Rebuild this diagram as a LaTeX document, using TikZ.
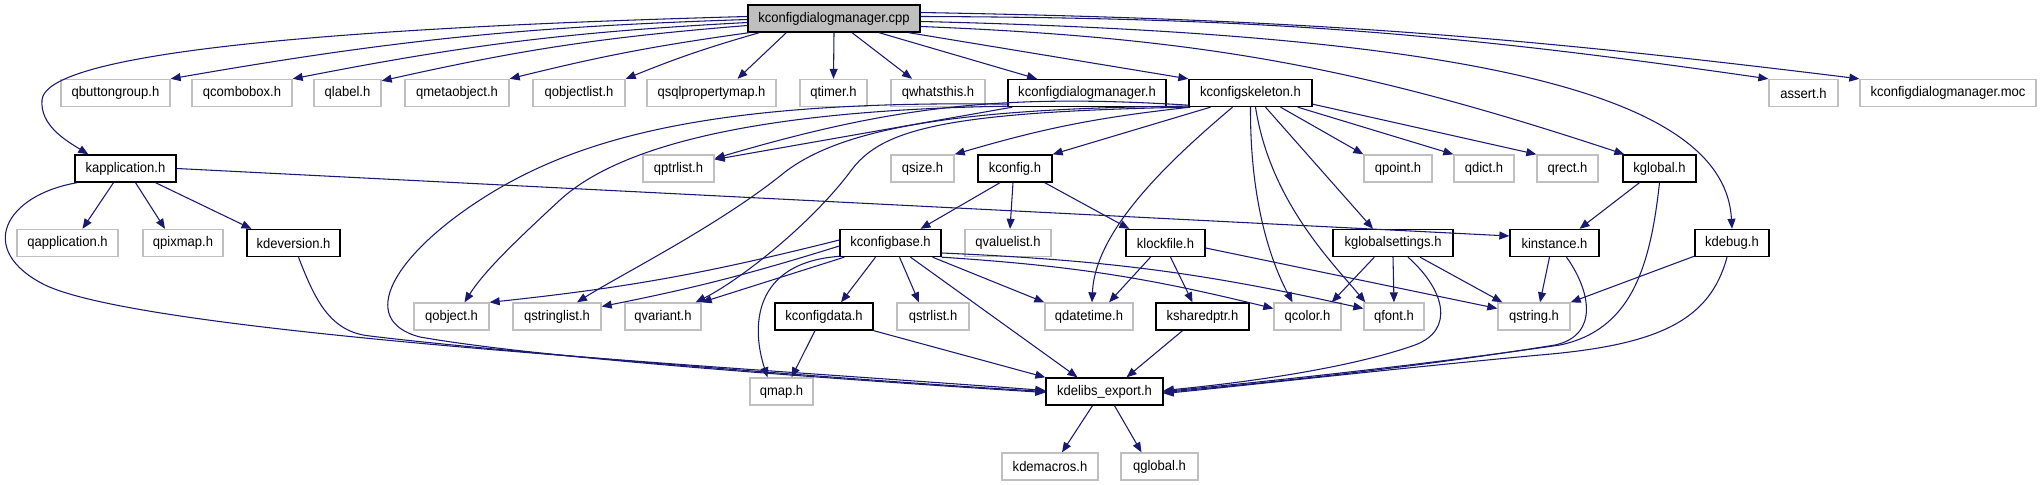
\documentclass[tikz,border=0pt]{standalone}
\usepackage{fontspec}
\setmainfont{Liberation Sans}[FakeStretch=0.93]
\usetikzlibrary{arrows.meta,calc}
\definecolor{edgec}{HTML}{191970}
\definecolor{graybd}{HTML}{BFBFBF}
\definecolor{rootfill}{HTML}{BFBFBF}
\newcommand{\mkbox}[5]{\node[#1, minimum width=#4*0.75pt] (#2) at (#3) {#5};}
\begin{document}
\begin{tikzpicture}[x=0.75pt,y=-0.75pt,
  box/.style={rectangle, minimum height=20.25pt, inner sep=0pt, font=\fontsize{10.5}{12}\selectfont},
  dnode/.style={box, draw=black, line width=1pt, fill=white},
  unode/.style={box, draw=graybd, line width=1pt, fill=white},
  rootn/.style={box, draw=black, line width=1pt, fill=rootfill},
  dep/.style={draw=edgec, line width=0.8pt, -{Triangle[length=7.5pt,width=6pt]}},
]
\useasboundingbox (0,0) rectangle (2041,485);
% row 0
\mkbox{rootn}{cpp}{834,18.5}{172}{kconfigdialogmanager.cpp}
% row 1
\mkbox{unode}{qbuttongroup}{115.5,93}{109}{qbuttongroup.h}
\mkbox{unode}{qcombobox}{242,93}{100}{qcombobox.h}
\mkbox{unode}{qlabel}{347.5,93}{67}{qlabel.h}
\mkbox{unode}{qmetaobject}{457,93}{104}{qmetaobject.h}
\mkbox{unode}{qobjectlist}{579,93}{92}{qobjectlist.h}
\mkbox{unode}{qsqlpropertymap}{711.5,93}{129}{qsqlpropertymap.h}
\mkbox{unode}{qtimer}{833.5,93}{67}{qtimer.h}
\mkbox{unode}{qwhatsthis}{938,93}{94}{qwhatsthis.h}
\mkbox{dnode}{kcdmh}{1087,93}{158}{kconfigdialogmanager.h}
\mkbox{dnode}{kcskel}{1250.5,93}{123}{kconfigskeleton.h}
\mkbox{unode}{assert}{1803.5,93}{69}{assert.h}
\mkbox{unode}{moc}{1948,93}{176}{kconfigdialogmanager.moc}
% row 2
\mkbox{dnode}{kapp}{125.5,168.5}{101}{kapplication.h}
\mkbox{unode}{qptrlist}{678.5,168.5}{71}{qptrlist.h}
\mkbox{unode}{qsize}{922.5,168.5}{63}{qsize.h}
\mkbox{dnode}{kconfig}{1015,168.5}{74}{kconfig.h}
\mkbox{unode}{qpoint}{1398,168.5}{68}{qpoint.h}
\mkbox{unode}{qdict}{1484,168.5}{60}{qdict.h}
\mkbox{unode}{qrect}{1567.5,168.5}{61}{qrect.h}
\mkbox{dnode}{kglobal}{1659.5,168.5}{73}{kglobal.h}
% row 3
\mkbox{unode}{qapplication}{67.5,243}{101}{qapplication.h}
\mkbox{unode}{qpixmap}{183,243}{80}{qpixmap.h}
\mkbox{dnode}{kdeversion}{293.5,243}{93}{kdeversion.h}
\mkbox{dnode}{kconfigbase}{890.5,243}{101}{kconfigbase.h}
\mkbox{unode}{qvaluelist}{1008,243}{86}{qvaluelist.h}
\mkbox{dnode}{klockfile}{1165.5,243}{79}{klockfile.h}
\mkbox{dnode}{kglobalsettings}{1393,243}{120}{kglobalsettings.h}
\mkbox{dnode}{kinstance}{1554.5,243}{89}{kinstance.h}
\mkbox{dnode}{kdebug}{1732,243}{74}{kdebug.h}
% row 4
\mkbox{unode}{qobject}{451.5,316.5}{75}{qobject.h}
\mkbox{unode}{qstringlist}{557,316.5}{88}{qstringlist.h}
\mkbox{unode}{qvariant}{663,316.5}{76}{qvariant.h}
\mkbox{dnode}{kconfigdata}{824,316.5}{98}{kconfigdata.h}
\mkbox{unode}{qstrlist}{933,316.5}{72}{qstrlist.h}
\mkbox{unode}{qdatetime}{1089,316.5}{88}{qdatetime.h}
\mkbox{dnode}{ksharedptr}{1202.5,316.5}{93}{ksharedptr.h}
\mkbox{unode}{qcolor}{1307.5,316.5}{67}{qcolor.h}
\mkbox{unode}{qfont}{1394,316.5}{60}{qfont.h}
\mkbox{unode}{qstring}{1534,316.5}{72}{qstring.h}
% row 5
\mkbox{unode}{qmap}{781.5,391.5}{63}{qmap.h}
\mkbox{dnode}{kdelibs}{1104.5,391.5}{117}{kdelibs\_export.h}
% row 6
\mkbox{unode}{kdemacros}{1050,466.5}{96}{kdemacros.h}
\mkbox{unode}{qglobal}{1159.5,466.5}{77}{qglobal.h}

% ---- edges from cpp
\draw[dep] ($(cpp.west)+(0,-2)$) .. controls (250,30) and (45,60) .. (42,100) .. controls (40,125) and (65,140) .. ($(kapp.north west)+(14,0)$);
\draw[dep] ($(cpp.west)+(0,1)$) to[bend right=4] (qbuttongroup.north east);
\draw[dep] ($(cpp.west)+(0,4)$) to[bend right=4] (qcombobox.north east);
\draw[dep] ($(cpp.west)+(0,7)$) to[bend right=4] ($(qlabel.north east)+(0,2)$);
\draw[dep] ($(cpp.south west)+(2,0)$) to[bend right=3] (qmetaobject.north east);
\draw[dep] ($(cpp.south west)+(12,0)$) to[bend right=3] (qobjectlist.north east);
\draw[dep] ($(cpp.south west)+(39,0)$) -- ($(qsqlpropertymap.north)+(26,0)$);
\draw[dep] (cpp.south) -- (qtimer.north);
\draw[dep] ($(cpp.south)+(18,0)$) -- ($(qwhatsthis.north)+(-26,0)$);
\draw[dep] ($(cpp.south)+(45,0)$) -- ($(kcdmh.north)+(-50,0)$);
\draw[dep] ($(cpp.south east)+(-12,0)$) -- (kcskel.north west);
\draw[dep] ($(cpp.east)+(0,8)$) to[bend left=8] ($(kglobal.north west)+(2,0)$);
\draw[dep] ($(cpp.east)+(0,3)$) .. controls (1500,35) and (1725,100) .. (kdebug.north);
\draw[dep] ($(cpp.east)+(0,-2)$) to[bend left=4] (assert.north west);
\draw[dep] ($(cpp.east)+(0,-6)$) to[bend left=3] (moc.north west);

% ---- kapplication
\draw[dep] ($(kapp.south)+(-12,0)$) -- ($(qapplication.north)+(15,0)$);
\draw[dep] ($(kapp.south)+(10,0)$) -- ($(qpixmap.north)+(-18,0)$);
\draw[dep] ($(kapp.south)+(30,0)$) -- ($(kdeversion.north)+(-42,0)$);
\draw[dep] (kapp.east) -- ($(kinstance.west)+(0,-7)$);
\draw[dep] ($(kapp.south west)+(3,0)$) .. controls (5,195) and (-25,250) .. (45,285) .. controls (150,335) and (750,368) .. ($(kdelibs.west)+(0,-1)$);

% ---- kdeversion
\draw[dep] ($(kdeversion.south)+(5,0)$) .. controls (315,300) and (330,332) .. (370,336) .. controls (500,352) and (850,380) .. (kdelibs.west);

% ---- kconfigdialogmanager.h
\draw[dep] ($(kcdmh.south west)+(5,0)$) -- ($(qptrlist.east)+(0,-9)$);
\draw[dep] ($(kcdmh.south west)+(2,-1)$) .. controls (760,110) and (620,145) .. (560,200) .. controls (520,237) and (485,270) .. ($(qobject.north)+(13,0)$);
\draw[dep] ($(kcdmh.south west)+(2,-3)$) .. controls (720,100) and (580,135) .. (480,200) .. controls (395,255) and (355,320) .. (420,337) .. controls (550,360) and (880,382) .. ($(kdelibs.west)+(0,1)$);

% ---- kconfigskeleton.h
\draw[dep] ($(kcskel.south west)+(0,-2)$) to[bend right=10] ($(qptrlist.east)+(0,-10)$);
\draw[dep] ($(kcskel.south west)+(0,-1)$) .. controls (950,108) and (840,130) .. (785,172) .. controls (720,225) and (620,275) .. ($(qstringlist.north)+(20,0)$);
\draw[dep] (kcskel.south west) .. controls (940,112) and (880,130) .. (850,172) .. controls (810,225) and (740,280) .. ($(qvariant.north east)+(-6,0)$);
\draw[dep] ($(kcskel.south west)+(2,0)$) to[bend right=5] (qsize.north east);
\draw[dep] ($(kcskel.south)+(-40,0)$) -- (kconfig.north east);
\draw[dep] ($(kcskel.south)+(-18,0)$) .. controls (1170,160) and (1095,230) .. ($(qdatetime.north)+(3,0)$);
\draw[dep] (kcskel.south) .. controls (1250,200) and (1270,260) .. ($(qcolor.north)+(-15,0)$);
\draw[dep] ($(kcskel.south)+(5,0)$) .. controls (1270,200) and (1330,260) .. ($(qfont.north west)+(2,0)$);
\draw[dep] ($(kcskel.south)+(15,0)$) -- ($(kglobalsettings.north)+(-20,0)$);
\draw[dep] ($(kcskel.south)+(30,0)$) -- (qpoint.north west);
\draw[dep] ($(kcskel.south east)+(-15,0)$) -- (qdict.north west);
\draw[dep] ($(kcskel.south east)+(0,-3)$) -- (qrect.north west);

% ---- kconfig.h
\draw[dep] ($(kconfig.south)+(-15,0)$) -- ($(kconfigbase.north)+(30,0)$);
\draw[dep] ($(kconfig.south)+(-2,0)$) -- ($(qvaluelist.north)+(2,0)$);
\draw[dep] ($(kconfig.south east)+(-8,0)$) -- ($(klockfile.north west)+(4,0)$);

% ---- kglobal.h
\draw[dep] ($(kglobal.south)+(-20,0)$) -- ($(kinstance.north)+(25,0)$);
\draw[dep] (kglobal.south) .. controls (1650,270) and (1630,330) .. (1560,345) .. controls (1400,368) and (1250,383) .. (kdelibs.east);

% ---- kinstance.h
\draw[dep] ($(kinstance.south)+(-5,0)$) -- ($(qstring.north)+(6,0)$);
\draw[dep] ($(kinstance.south)+(12,0)$) .. controls (1590,290) and (1600,335) .. (1555,345) .. controls (1400,370) and (1250,384) .. ($(kdelibs.east)+(0,1)$);

% ---- kdebug.h
\draw[dep] ($(kdebug.south west)+(0,-1)$) -- (qstring.north east);
\draw[dep] ($(kdebug.south)+(-5,0)$) .. controls (1710,320) and (1660,345) .. (1540,355) .. controls (1400,368) and (1250,385) .. ($(kdelibs.east)+(0,2)$);

% ---- kglobalsettings.h
\draw[dep] ($(kglobalsettings.south west)+(42,0)$) -- ($(qcolor.north east)+(-10,0)$);
\draw[dep] (kglobalsettings.south) -- (qfont.north);
\draw[dep] ($(kglobalsettings.south)+(27,0)$) -- ($(qstring.north west)+(5,0)$);
\draw[dep] ($(kglobalsettings.south)+(15,0)$) .. controls (1445,290) and (1455,330) .. (1415,345) .. controls (1350,368) and (1250,382) .. ($(kdelibs.east)+(0,-1)$);

% ---- klockfile.h
\draw[dep] ($(klockfile.south)+(-15,0)$) -- ($(qdatetime.north)+(20,0)$);
\draw[dep] ($(klockfile.south)+(5,0)$) -- ($(ksharedptr.north)+(-10,0)$);
\draw[dep] ($(klockfile.east)+(0,5)$) -- ($(qstring.west)+(0,-8)$);

% ---- ksharedptr.h
\draw[dep] ($(ksharedptr.south)+(-20,0)$) -- ($(kdelibs.north)+(22,0)$);

% ---- kconfigdata.h
\draw[dep] ($(kconfigdata.south)+(-9,0)$) -- ($(qmap.north)+(10,0)$);
\draw[dep] (kconfigdata.south east) -- (kdelibs.north west);

% ---- kconfigbase.h
\draw[dep] ($(kconfigbase.west)+(0,-3)$) to[bend left=4] (qobject.north east);
\draw[dep] ($(kconfigbase.west)+(0,3)$) to[bend left=3] ($(qstringlist.east)+(0,-10)$);
\draw[dep] ($(kconfigbase.south west)+(5,0)$) -- (qvariant.north east);
\draw[dep] ($(kconfigbase.south west)+(2,-1)$) .. controls (750,262) and (752,330) .. ($(qmap.north)+(-14,0)$);
\draw[dep] ($(kconfigbase.south)+(-15,0)$) -- ($(kconfigdata.north)+(17,0)$);
\draw[dep] ($(kconfigbase.south)+(9,0)$) -- ($(qstrlist.north)+(-14,0)$);
\draw[dep] ($(kconfigbase.south)+(20,0)$) -- ($(kdelibs.north)+(-27,0)$);
\draw[dep] ($(kconfigbase.south)+(42,0)$) -- (qdatetime.north west);
\draw[dep] (kconfigbase.south east) to[bend left=5] ($(qcolor.west)+(0,-8)$);
\draw[dep] ($(kconfigbase.east)+(0,10)$) to[bend left=5] ($(qfont.west)+(0,-8)$);

% ---- kdelibs_export.h
\draw[dep] ($(kdelibs.south)+(-12,0)$) -- ($(kdemacros.north)+(12,0)$);
\draw[dep] ($(kdelibs.south)+(10,0)$) -- ($(qglobal.north)+(-18,0)$);
\end{tikzpicture}
\end{document}
